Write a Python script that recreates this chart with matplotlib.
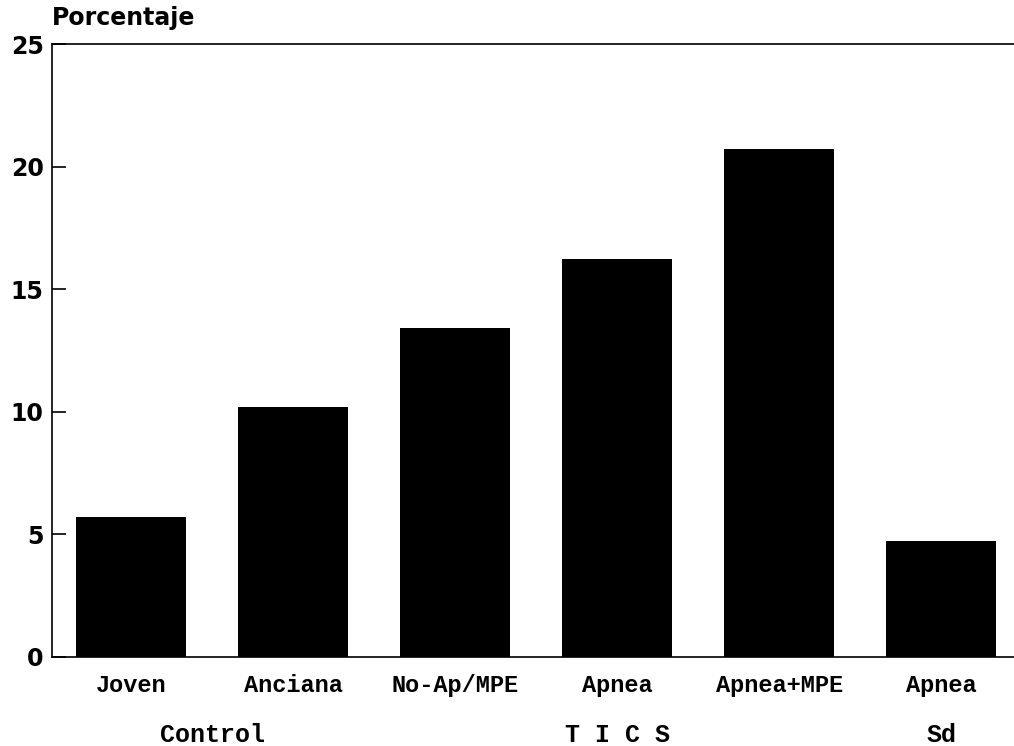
import matplotlib.pyplot as plt

# values
categories = ['Joven', 'Anciana', 'No-Ap/MPE', 'Apnea', 'Apnea+MPE', 'Apnea']
values = [5.7, 10.2, 13.4, 16.25, 20.7, 4.75]
groups = ['Control', 'T I C S', 'Sd']
group_pos = [0.5, 3, 5]
yticks = [0, 5, 10, 15, 20, 25]

fig = plt.figure(figsize=(10.14, 7.46), dpi=100)
ax = fig.add_axes([52/1014, 1 - 657/746, 962/1014, 613/746])

x = list(range(len(categories)))
ax.bar(x, values, width=0.68, color='black', edgecolor='none')

ax.set_xlim(-0.49, 5.45)
ax.set_ylim(0, 25)
ax.set_yticks(yticks)
ax.set_yticklabels([str(t) for t in yticks], fontsize=17, fontweight='bold',
                   family='DejaVu Sans')
ax.tick_params(axis='y', direction='in', length=10, width=1.2, pad=6)

ax.set_xticks(x)
ax.set_xticklabels([])
ax.tick_params(axis='x', length=0)
for xi, lab in zip(x, categories):
    ax.text(xi, -0.047, lab, transform=ax.get_xaxis_transform(),
            ha='center', va='center', fontsize=17, fontweight='bold',
            family='Liberation Mono')

for gp, g in zip(group_pos, groups):
    ax.text(gp, -0.127, g, transform=ax.get_xaxis_transform(),
            ha='center', va='center', fontsize=18, fontweight='bold',
            family='Liberation Mono')

ax.spines['right'].set_visible(False)
for s in ['left', 'bottom', 'top']:
    ax.spines[s].set_linewidth(1.2)

fig.text(52/1014, 1 - 18/746, 'Porcentaje', ha='left', va='center',
         fontsize=17, fontweight='bold', family='DejaVu Sans')

fig.savefig('out.png', dpi=100)
